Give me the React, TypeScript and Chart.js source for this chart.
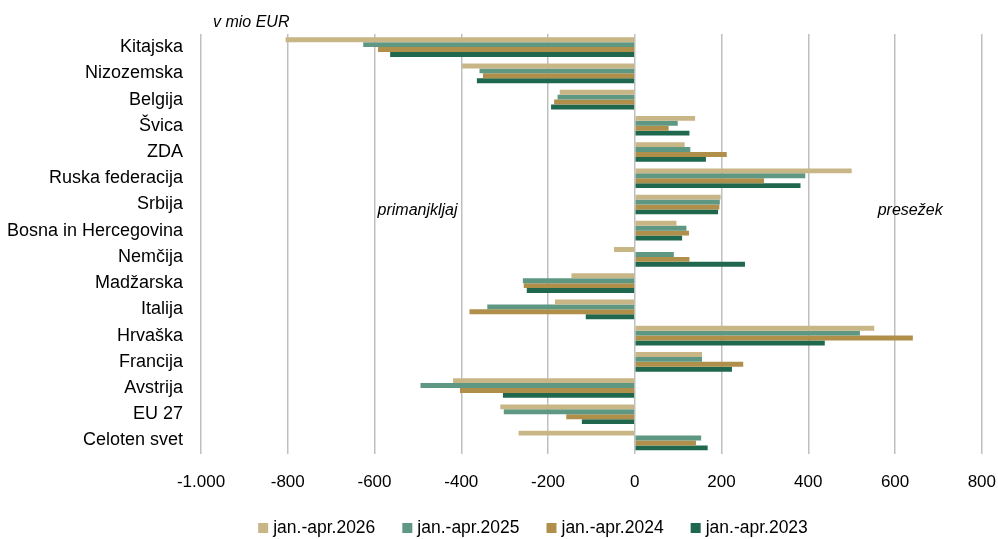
import React, { useEffect, useRef } from "react";
import { Chart, registerables } from "chart.js";

Chart.register(...registerables);

const categories = [
  "Kitajska",
  "Nizozemska",
  "Belgija",
  "Švica",
  "ZDA",
  "Ruska federacija",
  "Srbija",
  "Bosna in Hercegovina",
  "Nemčija",
  "Madžarska",
  "Italija",
  "Hrvaška",
  "Francija",
  "Avstrija",
  "EU 27",
  "Celoten svet",
];

const seriesLabels = ["jan.-apr.2026", "jan.-apr.2025", "jan.-apr.2024", "jan.-apr.2023"];

const values2026 = [-805, -398, -173, 139, 115, 500, 198, 96, -48, -146, -184, 552, 155, -419, -310, -268];
const values2025 = [-626, -358, -178, 99, 128, 393, 196, 119, 90, -258, -340, 519, 155, -494, -302, 153];
const values2024 = [-592, -350, -186, 78, 212, 298, 195, 125, 126, -256, -381, 641, 250, -403, -158, 141];
const values2023 = [-564, -364, -193, 126, 164, 382, 192, 109, 254, -249, -113, 438, 224, -304, -122, 168];

const seriesColors = ["#C8B686", "#5E9883", "#B08F4B", "#1F684E"];

const xMin = -1000;
const xMax = 800;
const xStep = 200;

const unitLabel = "v mio EUR";
const deficitLabel = "primanjkljaj";
const surplusLabel = "presežek";

const FONT = "'Liberation Sans', Arial, sans-serif";

const fmt = (v: number) => {
  const s = Math.abs(v).toString().replace(/\B(?=(\d{3})+(?!\d))/g, ".");
  return (v < 0 ? "-" : "") + s;
};

const annotations = {
  id: "annotations",
  afterDraw(chart: any) {
    const { ctx, scales, chartArea } = chart;
    const x = scales.x;
    ctx.save();
    ctx.fillStyle = "#000";
    ctx.font = `italic 16px ${FONT}`;
    ctx.textBaseline = "middle";
    ctx.textAlign = "left";
    ctx.fillText(unitLabel, chartArea.left + 12, chartArea.top - 11);
    const yMid = scales.y.getPixelForValue(6.23);
    ctx.fillText(deficitLabel, x.getPixelForValue(-593), yMid);
    ctx.fillText(surplusLabel, x.getPixelForValue(560), yMid);

    // legend
    const ds = chart.data.datasets;
    ctx.font = `17.5px ${FONT}`;
    const box = 10;
    const gap = 5;
    const spacing = 27;
    const widths = ds.map((d: any) => box + gap + ctx.measureText(d.label).width);
    const total = widths.reduce((a: number, b: number) => a + b, 0) + spacing * (ds.length - 1);
    let cx = (chart.width - total) / 2 + 34;
    const ly = 528;
    ds.forEach((d: any, i: number) => {
      ctx.fillStyle = d.backgroundColor;
      ctx.fillRect(cx, ly - box / 2, box, box);
      ctx.fillStyle = "#000";
      ctx.fillText(d.label, cx + box + gap, ly);
      cx += widths[i] + spacing;
    });
    ctx.restore();
  },
};

export default function App() {
  const ref = useRef<HTMLCanvasElement>(null);
  useEffect(() => {
    if (!ref.current) return;
    const data = [values2026, values2025, values2024, values2023];
    const chart = new Chart(ref.current, {
      type: "bar",
      data: {
        labels: categories,
        datasets: data.map((d, i) => ({
          label: seriesLabels[i],
          data: d,
          backgroundColor: seriesColors[i],
          borderWidth: 0,
          categoryPercentage: 0.75,
          barPercentage: 1,
        })),
      },
      options: {
        indexAxis: "y",
        animation: false,
        responsive: false,
        maintainAspectRatio: false,
        layout: { padding: { left: 0, right: 0, top: 34, bottom: 44 } },
        plugins: {
          legend: { display: false },
          tooltip: { enabled: false },
        },
        scales: {
          x: {
            type: "linear",
            min: xMin,
            max: xMax,
            ticks: {
              stepSize: xStep,
              padding: 2,
              color: "#000",
              font: { family: FONT, size: 17 },
              callback: (v: any) => fmt(Number(v)),
            },
            grid: { color: "#BFBFBF", lineWidth: 1.5, drawTicks: true, tickLength: 17, tickColor: "rgba(0,0,0,0)" },
            border: { display: false },
          },
          y: {
            ticks: {
              color: "#000",
              padding: 18,
              font: { family: FONT, size: 18 },
            },
            grid: { display: false, drawTicks: false },
            border: { display: false },
            afterFit: (scale: any) => {
              scale.width = 201;
            },
          },
        },
      },
      plugins: [annotations],
    });
    return () => chart.destroy();
  }, []);
  return (
    <div style={{ position: "absolute", left: 0, top: 0, width: 998, height: 539, background: "#fff" }}>
      <canvas ref={ref} width={998} height={539} style={{ width: 998, height: 539 }} />
    </div>
  );
}
